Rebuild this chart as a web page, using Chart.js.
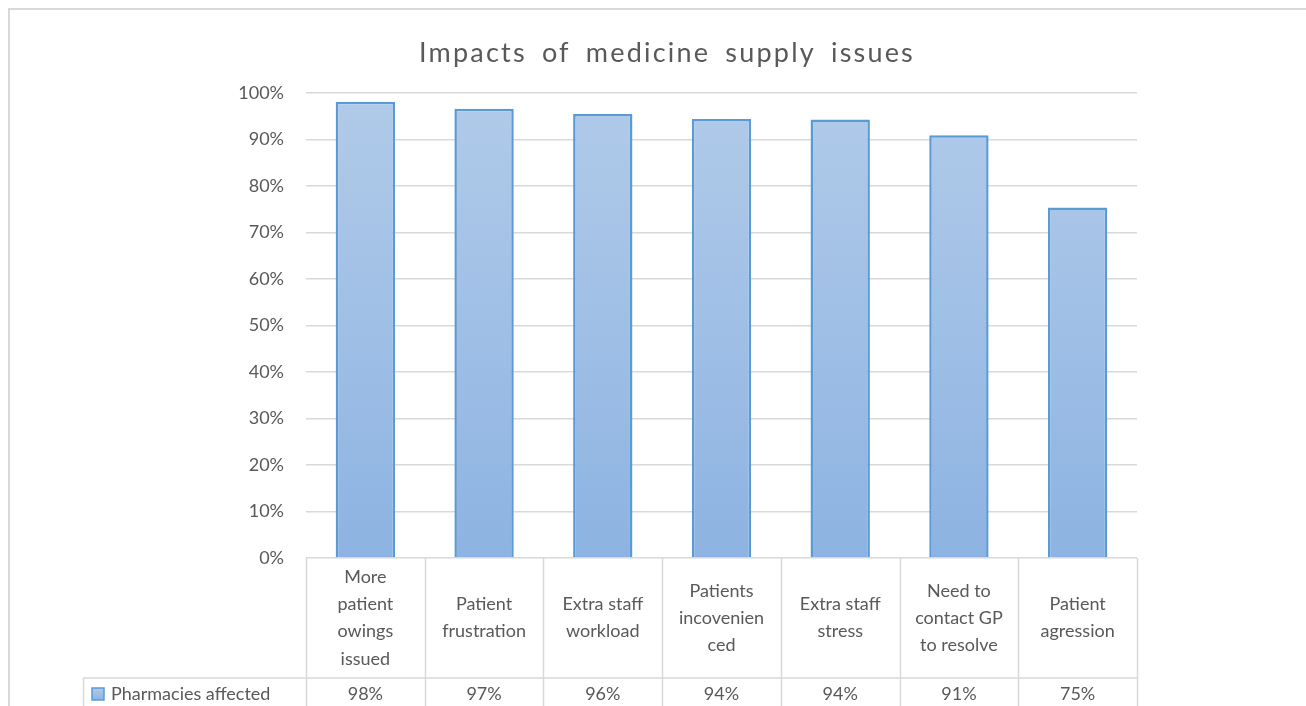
<!DOCTYPE html>
<html>
<head>
<meta charset="utf-8">
<script src="https://cdn.jsdelivr.net/npm/chart.js@4.4.1/dist/chart.umd.min.js"></script>
<style>
  html, body { margin: 0; padding: 0; background: #ffffff; }
  #wrap { position: relative; width: 1306px; height: 706px; }
</style>
</head>
<body>
<div id="wrap"><canvas id="impactsChart"></canvas></div>
<script>
// chart data
var chartTitle = "Impacts of medicine supply issues";
var categories = [
  ["More", "patient", "owings", "issued"],
  ["Patient", "frustration"],
  ["Extra staff", "workload"],
  ["Patients", "incovenien", "ced"],
  ["Extra staff", "stress"],
  ["Need to", "contact GP", "to resolve"],
  ["Patient", "agression"]
];
var seriesName = "Pharmacies affected";
var pharmaciesAffected = [98.1, 96.6, 95.5, 94.4, 94.3, 90.9, 75.4];
var yTicks = [0, 10, 20, 30, 40, 50, 60, 70, 80, 90, 100];

var fontFamily = "Lato, 'Open Sans', sans-serif";
var textColor = "#595959";
var lineColor = "#d9d9d9";

// draws the outer frame, the title and the Excel style data table under the plot
var dataTablePlugin = {
  id: "dataTable",
  beforeDraw: function (chart) {
    var ctx = chart.ctx;
    ctx.save();
    ctx.strokeStyle = lineColor;
    ctx.lineWidth = 2;
    ctx.strokeRect(9, 9, 1400, 800);

    ctx.fillStyle = textColor;
    ctx.font = "27px " + fontFamily;
    ctx.letterSpacing = "2.2px";
    ctx.wordSpacing = "6px";
    ctx.textAlign = "center";
    ctx.textBaseline = "alphabetic";
    ctx.fillText(chartTitle, 667, 62);
    ctx.restore();
  },
  afterDraw: function (chart) {
    var ctx = chart.ctx;
    var x = chart.scales.x;
    var area = chart.chartArea;
    var n = categories.length;
    var cw = (x.right - x.left) / n;
    var top = area.bottom;
    var rowY = top + 120;
    var bottom = chart.height + 5;

    ctx.save();
    ctx.strokeStyle = lineColor;
    ctx.lineWidth = 1.5;
    ctx.beginPath();
    for (var i = 0; i <= n; i++) {
      var vx = Math.round(x.left + i * cw) + 0.5;
      ctx.moveTo(vx, top);
      ctx.lineTo(vx, bottom);
    }
    ctx.moveTo(83, rowY);
    ctx.lineTo(x.right, rowY);
    ctx.moveTo(83.5, rowY);
    ctx.lineTo(83.5, bottom);
    ctx.stroke();

    ctx.fillStyle = textColor;
    ctx.font = "18px " + fontFamily;
    ctx.textAlign = "center";
    ctx.textBaseline = "middle";
    var lh = 27.3;
    for (var j = 0; j < n; j++) {
      var cx = x.getPixelForValue(j);
      var lines = categories[j];
      var y0 = top + 60 - (lines.length - 1) * lh / 2;
      for (var k = 0; k < lines.length; k++) {
        ctx.fillText(lines[k], cx, y0 + k * lh);
      }
      ctx.fillText(Math.round(pharmaciesAffected[j]) + "%", cx, rowY + 16);
    }

    // legend key
    var g = ctx.createLinearGradient(0, rowY + 10, 0, rowY + 22);
    g.addColorStop(0, "#b1cbe9");
    g.addColorStop(1, "#8db3e2");
    ctx.fillStyle = g;
    ctx.fillRect(92, rowY + 10, 12, 12);
    ctx.strokeStyle = "#5b9bd5";
    ctx.lineWidth = 1.5;
    ctx.strokeRect(92, rowY + 10, 12, 12);
    ctx.fillStyle = textColor;
    ctx.textAlign = "left";
    ctx.fillText(seriesName, 111, rowY + 16);
    ctx.restore();
  }
};

var ctx = document.getElementById("impactsChart").getContext("2d");
var impactsChart = new Chart(ctx, {
  type: "bar",
  data: {
    labels: categories,
    datasets: [
      {
        label: seriesName,
        data: pharmaciesAffected,
        backgroundColor: function (c) {
          var a = c.chart.chartArea;
          if (!a) return "#9fbfe6";
          var g = c.chart.ctx.createLinearGradient(0, a.top, 0, a.bottom);
          g.addColorStop(0, "#b1cbe9");
          g.addColorStop(1, "#8db3e2");
          return g;
        },
        borderColor: "#5b9bd5",
        borderWidth: 2.5,
        categoryPercentage: 1,
        barPercentage: 0.5
      }
    ]
  },
  options: {
    responsive: true,
    maintainAspectRatio: false,
    animation: false,
    layout: { padding: { left: 8, right: 169, top: 93, bottom: 0 } },
    plugins: {
      legend: { display: false },
      tooltip: { enabled: false },
      title: { display: false }
    },
    scales: {
      x: {
        grid: { display: false },
        border: { display: false },
        ticks: { display: false },
        afterFit: function (s) { s.height = 148; }
      },
      y: {
        min: 0,
        max: 100,
        afterBuildTicks: function (s) {
          s.ticks = yTicks.map(function (v) { return { value: v }; });
        },
        grid: { color: lineColor, lineWidth: 1.5, drawTicks: false },
        border: { display: false },
        ticks: {
          color: textColor,
          padding: 22,
          font: { family: fontFamily, size: 18 },
          callback: function (v) { return v + "%"; }
        },
        afterFit: function (s) { s.width = 298; }
      }
    }
  },
  plugins: [dataTablePlugin]
});
</script>
</body>
</html>
